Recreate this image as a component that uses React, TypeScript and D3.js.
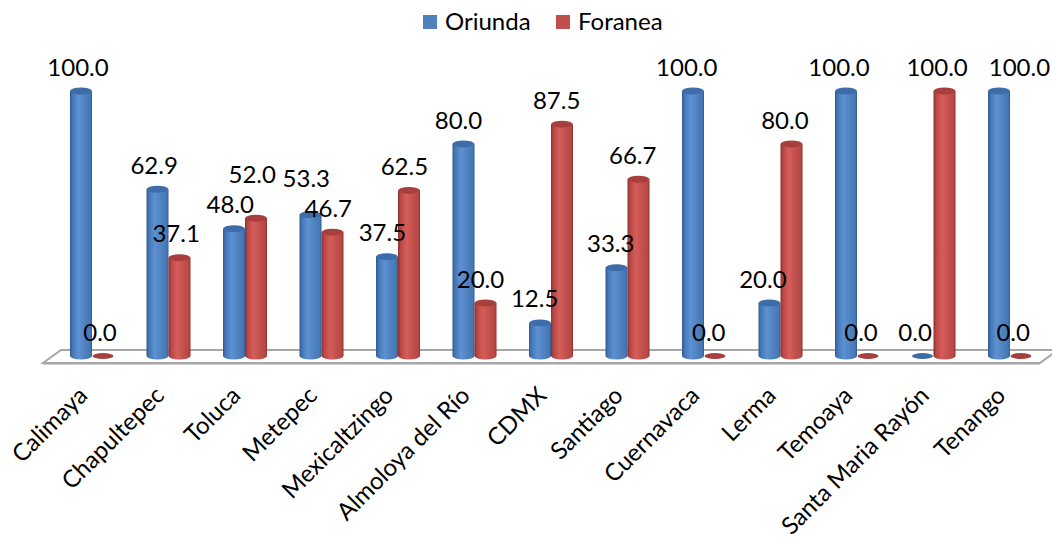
import React, { useEffect, useRef } from 'react';
import * as d3 from 'd3';

const W = 1052;
const H = 540;

const categories = [
  'Calimaya',
  'Chapultepec',
  'Toluca',
  'Metepec',
  'Mexicaltzingo',
  'Almoloya del Río',
  'CDMX',
  'Santiago',
  'Cuernavaca',
  'Lerma',
  'Temoaya',
  'Santa Maria Rayón',
  'Tenango',
];
const seriesNames = ['Oriunda', 'Foranea'];
const oriunda = [100.0, 62.9, 48.0, 53.3, 37.5, 80.0, 12.5, 33.3, 100.0, 20.0, 100.0, 0.0, 100.0];
const foranea = [0.0, 37.1, 52.0, 46.7, 62.5, 20.0, 87.5, 66.7, 0.0, 80.0, 0.0, 100.0, 0.0];

const palette = {
  Oriunda: { base: '#4F81BD', dark: '#2d5a92', mid: '#4677b6', light: '#5c91d3', top: '#3d6ca8', topRim: '#4a7cbc' },
  Foranea: { base: '#C0504D', dark: '#8e2f2d', mid: '#b84744', light: '#d65d59', top: '#a7403d', topRim: '#bb4c49' },
} as const;

const FONT = 'Lato, "Open Sans", sans-serif';
const FONT_SIZE = 24;

export default function App() {
  const ref = useRef<SVGSVGElement>(null);

  useEffect(() => {
    const svg = d3.select(ref.current);
    svg.selectAll('*').remove();

    const x = d3.scaleBand<string>().domain(categories).range([53.75, 1048.25]).padding(0);
    const xs = d3.scaleBand<string>().domain(seriesNames).range([-22, 22]).padding(0);
    const y = d3.scaleLinear().domain([0, 100]).range([356, 91]);
    const r = xs.bandwidth() / 2;
    const ry = 3.5;

    const defs = svg.append('defs');
    seriesNames.forEach((s) => {
      const p = palette[s as keyof typeof palette];
      const g = defs.append('linearGradient').attr('id', `cyl-${s}`).attr('x1', 0).attr('x2', 1).attr('y1', 0).attr('y2', 0);
      g.append('stop').attr('offset', 0).attr('stop-color', p.dark);
      g.append('stop').attr('offset', 0.12).attr('stop-color', p.mid);
      g.append('stop').attr('offset', 0.38).attr('stop-color', p.light);
      g.append('stop').attr('offset', 0.7).attr('stop-color', p.base);
      g.append('stop').attr('offset', 0.92).attr('stop-color', p.mid);
      g.append('stop').attr('offset', 1).attr('stop-color', p.dark);
      const t = defs.append('radialGradient').attr('id', `top-${s}`).attr('cx', 0.45).attr('cy', 0.5).attr('r', 0.6);
      t.append('stop').attr('offset', 0).attr('stop-color', p.top);
      t.append('stop').attr('offset', 0.8).attr('stop-color', p.top);
      t.append('stop').attr('offset', 1).attr('stop-color', p.topRim);
    });

    // legend
    const legend = svg.append('g');
    const legendX = [423, 556];
    seriesNames.forEach((s, i) => {
      legend.append('rect').attr('x', legendX[i]).attr('y', 15).attr('width', 14).attr('height', 14)
        .attr('fill', palette[s as keyof typeof palette].base);
      legend.append('text').attr('x', legendX[i] + 22).attr('y', 30)
        .attr('font-family', FONT).attr('font-size', FONT_SIZE).attr('fill', '#000').text(s);
    });

    // floor
    const floorFront = 363;
    const floorBack = 350;
    const floorLeft = 43;
    const floorRight = 1040;
    const depthDx = 18;
    svg.append('path')
      .attr('d', `M${floorLeft},${floorFront} L${floorLeft + depthDx},${floorBack} L${floorRight + depthDx},${floorBack} L${floorRight},${floorFront} Z`)
      .attr('fill', '#fff').attr('stroke', '#a6a6a6').attr('stroke-width', 2);
    svg.append('line').attr('x1', floorLeft).attr('x2', floorRight).attr('y1', floorFront + 1.5).attr('y2', floorFront + 1.5)
      .attr('stroke', '#d0d0d0').attr('stroke-width', 1);

    // bars
    const seriesData: Record<string, number[]> = { Oriunda: oriunda, Foranea: foranea };
    const bars = svg.append('g');
    categories.forEach((c, i) => {
      seriesNames.forEach((s) => {
        const v = seriesData[s][i];
        const cx = (x(c) as number) + x.bandwidth() / 2 + (xs(s) as number) + r;
        const yb = y(0);
        const yt = y(v);
        const p = palette[s as keyof typeof palette];
        if (v <= 0) {
          bars.append('ellipse').attr('cx', cx).attr('cy', yb).attr('rx', r - 0.5).attr('ry', 3)
            .attr('fill', p.top);
          return;
        }
        bars.append('path')
          .attr('d', `M${cx - r},${yt} L${cx - r},${yb} A${r},${ry} 0 0 0 ${cx + r},${yb} L${cx + r},${yt} Z`)
          .attr('fill', `url(#cyl-${s})`);
        bars.append('ellipse').attr('cx', cx).attr('cy', yt).attr('rx', r).attr('ry', ry)
          .attr('fill', `url(#top-${s})`);
      });
    });

    // value labels
    type Lbl = { x: number; y: number; text: string; v: number; w: number; cat: number };
    const labels: Lbl[] = [];
    categories.forEach((c, i) => {
      const shift = -3 - 0.4 * i;
      const pair = seriesNames.map((s) => {
        const v = seriesData[s][i];
        const cx = (x(c) as number) + x.bandwidth() / 2 + (xs(s) as number) + r + shift;
        return { x: cx, y: y(v) - 24, text: d3.format('.1f')(v), v, w: 0, cat: i };
      });
      // keep the two labels of a category from overlapping: lift the taller bar's label
      if (Math.abs(pair[0].y - pair[1].y) < 22) {
        const [hi, lo] = pair[0].v >= pair[1].v ? [pair[0], pair[1]] : [pair[1], pair[0]];
        hi.y = lo.y - 30;
      }
      labels.push(...pair);
    });

    const lg = svg.append('g').attr('font-family', FONT).attr('font-size', FONT_SIZE).attr('fill', '#000').attr('text-anchor', 'middle');
    const nodes = labels.map((l) => {
      const t = lg.append('text').attr('x', l.x).attr('y', l.y + 8.5).text(l.text);
      l.w = (t.node() as SVGTextElement).getComputedTextLength();
      return t;
    });
    // push a label to the right when it collides with an earlier one on the same row
    const order = labels.map((_, i) => i).sort((a, b) => labels[a].x - labels[b].x);
    order.forEach((idx, k) => {
      const l = labels[idx];
      for (let j = 0; j < k; j++) {
        const p = labels[order[j]];
        if (Math.abs(p.y - l.y) < 20) {
          const pr = p.x + p.w / 2;
          const ll = l.x - l.w / 2;
          if (ll < pr) {
            l.x = pr + 21 + l.w / 2;
            nodes[idx].attr('x', l.x);
          }
        }
      }
    });

    // category labels
    const cg = svg.append('g').attr('font-family', FONT).attr('font-size', FONT_SIZE).attr('fill', '#000');
    categories.forEach((c) => {
      const ax = (x(c) as number) + x.bandwidth() / 2 - 3;
      const ay = 397;
      cg.append('text').attr('text-anchor', 'end')
        .attr('transform', `translate(${ax},${ay}) rotate(-45)`).text(c);
    });
  }, []);

  return (
    <svg
      ref={ref}
      width={W}
      height={H}
      style={{ position: 'absolute', left: 0, top: 0, display: 'block', background: '#fff' }}
    />
  );
}
